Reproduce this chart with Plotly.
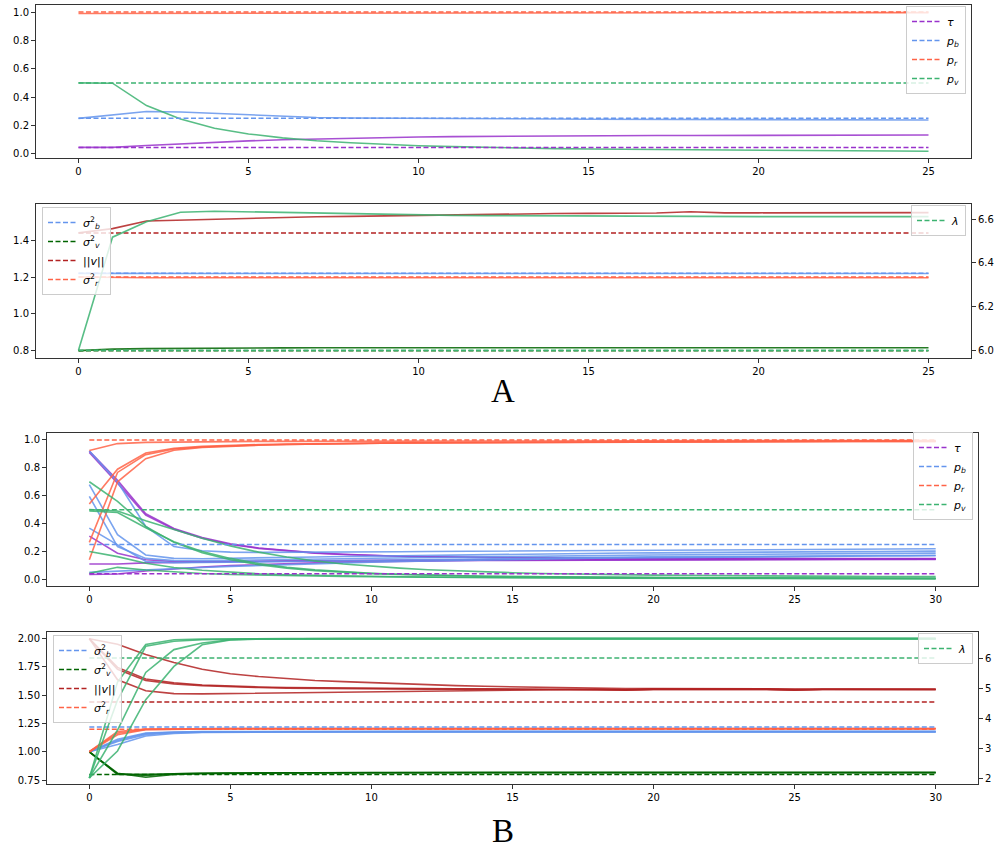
import plotly.graph_objects as go

# ---------------- Panel A data (iterations 0..25) ----------------
iters_A = list(range(26))
tau_A_true, pb_A_true, pr_A_true, pv_A_true = 0.045, 0.25, 1.0, 0.5
tau_A = [0.045,0.045,0.058,0.070,0.081,0.091,0.099,0.105,0.110,0.114,0.118,0.121,0.123,0.125,0.126,0.127,0.128,0.129,0.129,0.130,0.130,0.131,0.131,0.131,0.132,0.132]
pb_A = [0.250,0.272,0.298,0.295,0.285,0.272,0.263,0.256,0.252,0.250,0.249,0.248,0.247,0.246,0.245,0.244,0.243,0.242,0.241,0.240,0.240,0.239,0.239,0.238,0.238,0.238]
pr_A = [0.990,0.990,0.990,0.991,0.991,0.991,0.992,0.992,0.992,0.993,0.993,0.993,0.994,0.994,0.994,0.994,0.995,0.995,0.995,0.995,0.995,0.996,0.996,0.996,0.996,0.996]
pv_A = [0.500,0.498,0.340,0.245,0.180,0.140,0.112,0.092,0.078,0.066,0.057,0.050,0.044,0.040,0.036,0.033,0.031,0.029,0.027,0.025,0.024,0.022,0.021,0.020,0.019,0.018]

sb2_A_true, sv2_A_true, vn_A_true, sr2_A_true, lam_A_true = 1.22, 0.80, 1.44, 1.20, 6.0
sb2_A = [1.220,1.219,1.219,1.219,1.219,1.219,1.219,1.219,1.219,1.219,1.219,1.219,1.219,1.219,1.219,1.219,1.219,1.219,1.219,1.219,1.219,1.219,1.219,1.219,1.219,1.219]
sr2_A = [1.200,1.197,1.196,1.196,1.196,1.196,1.196,1.196,1.196,1.196,1.196,1.196,1.196,1.196,1.196,1.196,1.196,1.196,1.196,1.196,1.196,1.196,1.196,1.196,1.196,1.196]
sv2_A = [0.800,0.808,0.811,0.813,0.814,0.815,0.815,0.816,0.816,0.816,0.816,0.816,0.816,0.816,0.816,0.816,0.816,0.816,0.816,0.816,0.816,0.816,0.816,0.816,0.816,0.816]
vn_A = [1.440,1.463,1.505,1.510,1.516,1.522,1.526,1.528,1.530,1.533,1.536,1.539,1.541,1.543,1.545,1.546,1.547,1.548,1.555,1.549,1.549,1.550,1.550,1.551,1.551,1.550]
lam_A = [6.000,6.518,6.589,6.632,6.637,6.634,6.630,6.627,6.624,6.622,6.620,6.618,6.617,6.616,6.615,6.614,6.614,6.613,6.612,6.612,6.612,6.612,6.612,6.612,6.612,6.612]

# ---------------- Panel B data (iterations 0..30, several runs) ----------------
iters_B = list(range(31))
tau_B_true, pb_B_true, pr_B_true, pv_B_true = 0.04, 0.25, 1.0, 0.5
tau_B = [
    [0.920,0.710,0.470,0.365,0.300,0.255,0.225,0.205,0.190,0.180,0.172,0.166,0.162,0.159,0.157,0.155,0.154,0.153,0.152,0.152,0.151,0.151,0.150,0.150,0.150,0.150,0.149,0.149,0.149,0.149,0.149],
    [0.910,0.690,0.460,0.360,0.295,0.250,0.222,0.203,0.188,0.178,0.170,0.165,0.161,0.158,0.156,0.154,0.153,0.152,0.151,0.151,0.150,0.150,0.149,0.149,0.149,0.149,0.148,0.148,0.148,0.148,0.148],
    [0.310,0.187,0.140,0.128,0.125,0.125,0.126,0.128,0.130,0.132,0.134,0.136,0.137,0.138,0.139,0.140,0.141,0.141,0.142,0.142,0.143,0.143,0.143,0.144,0.144,0.144,0.144,0.144,0.145,0.145,0.145],
    [0.110,0.110,0.118,0.122,0.125,0.128,0.130,0.132,0.134,0.135,0.136,0.137,0.138,0.139,0.140,0.140,0.141,0.141,0.142,0.142,0.142,0.143,0.143,0.143,0.143,0.144,0.144,0.144,0.144,0.144,0.144],
    [0.035,0.038,0.060,0.075,0.088,0.098,0.106,0.113,0.118,0.122,0.126,0.129,0.131,0.133,0.135,0.136,0.137,0.138,0.139,0.140,0.140,0.141,0.141,0.142,0.142,0.142,0.143,0.143,0.143,0.143,0.143],
]
pb_B = [
    [0.920,0.700,0.380,0.235,0.205,0.195,0.193,0.193,0.194,0.195,0.197,0.198,0.200,0.201,0.203,0.204,0.205,0.206,0.207,0.208,0.209,0.210,0.211,0.212,0.213,0.214,0.215,0.216,0.217,0.218,0.219],
    [0.680,0.320,0.175,0.150,0.148,0.150,0.153,0.157,0.160,0.164,0.167,0.170,0.173,0.176,0.178,0.181,0.183,0.185,0.187,0.189,0.190,0.192,0.193,0.195,0.196,0.197,0.198,0.199,0.200,0.201,0.202],
    [0.595,0.235,0.150,0.135,0.133,0.135,0.138,0.141,0.145,0.148,0.151,0.154,0.157,0.160,0.162,0.165,0.167,0.169,0.171,0.173,0.175,0.177,0.178,0.180,0.181,0.183,0.184,0.185,0.186,0.187,0.188],
    [0.367,0.250,0.128,0.120,0.120,0.122,0.125,0.128,0.131,0.134,0.137,0.140,0.143,0.146,0.148,0.151,0.153,0.155,0.157,0.159,0.161,0.162,0.164,0.165,0.167,0.168,0.169,0.170,0.171,0.172,0.173],
    [0.050,0.060,0.068,0.077,0.085,0.093,0.100,0.107,0.113,0.118,0.123,0.128,0.132,0.136,0.140,0.143,0.146,0.149,0.151,0.154,0.156,0.158,0.160,0.161,0.163,0.164,0.165,0.166,0.167,0.168,0.169],
]
pr_B = [
    [0.925,0.974,0.983,0.986,0.988,0.989,0.990,0.990,0.991,0.991,0.992,0.992,0.992,0.993,0.993,0.993,0.993,0.994,0.994,0.994,0.994,0.994,0.995,0.995,0.995,0.995,0.995,0.995,0.995,0.995,0.995],
    [0.540,0.790,0.906,0.940,0.954,0.962,0.967,0.971,0.974,0.976,0.978,0.980,0.981,0.982,0.983,0.984,0.985,0.986,0.987,0.987,0.988,0.988,0.989,0.989,0.990,0.990,0.990,0.991,0.991,0.991,0.991],
    [0.265,0.767,0.895,0.935,0.950,0.958,0.964,0.968,0.972,0.975,0.977,0.979,0.980,0.981,0.982,0.983,0.984,0.985,0.986,0.986,0.987,0.987,0.988,0.988,0.989,0.989,0.989,0.990,0.990,0.990,0.990],
    [0.140,0.700,0.866,0.926,0.947,0.956,0.962,0.967,0.971,0.974,0.976,0.978,0.979,0.980,0.981,0.982,0.983,0.984,0.985,0.985,0.986,0.986,0.987,0.987,0.988,0.988,0.988,0.989,0.989,0.989,0.989],
]
pv_B = [
    [0.700,0.560,0.380,0.265,0.190,0.140,0.105,0.080,0.062,0.050,0.041,0.034,0.029,0.025,0.022,0.020,0.018,0.016,0.015,0.014,0.013,0.012,0.011,0.011,0.010,0.010,0.009,0.009,0.009,0.008,0.008],
    [0.500,0.490,0.420,0.355,0.295,0.240,0.195,0.160,0.132,0.110,0.093,0.080,0.069,0.060,0.053,0.047,0.042,0.038,0.035,0.032,0.030,0.028,0.026,0.025,0.024,0.023,0.022,0.021,0.020,0.020,0.019],
    [0.200,0.163,0.115,0.085,0.065,0.050,0.040,0.033,0.028,0.024,0.021,0.018,0.016,0.014,0.013,0.012,0.011,0.010,0.009,0.009,0.008,0.008,0.007,0.007,0.007,0.006,0.006,0.006,0.006,0.005,0.005],
    [0.043,0.086,0.067,0.052,0.042,0.035,0.030,0.026,0.023,0.020,0.018,0.016,0.014,0.013,0.012,0.011,0.010,0.009,0.008,0.008,0.007,0.007,0.006,0.006,0.006,0.005,0.005,0.005,0.005,0.004,0.004],
    [0.490,0.480,0.370,0.270,0.200,0.150,0.113,0.087,0.068,0.054,0.044,0.036,0.030,0.026,0.022,0.019,0.017,0.015,0.013,0.012,0.011,0.010,0.009,0.009,0.008,0.008,0.007,0.007,0.007,0.006,0.006],
]

sb2_B_true, sv2_B_true, vn_B_true, sr2_B_true, lam_B_true = 1.22, 0.80, 1.44, 1.20, 6.0
sb2_B = [
    [1.000,1.110,1.165,1.175,1.178,1.179,1.180,1.180,1.180,1.180,1.180,1.180,1.180,1.180,1.180,1.180,1.180,1.180,1.180,1.180,1.180,1.180,1.180,1.180,1.180,1.180,1.180,1.180,1.180,1.180,1.180],
    [1.000,1.090,1.150,1.168,1.173,1.175,1.176,1.177,1.177,1.177,1.177,1.177,1.177,1.177,1.177,1.177,1.177,1.177,1.177,1.177,1.177,1.177,1.177,1.177,1.177,1.177,1.177,1.177,1.177,1.177,1.177],
    [1.000,1.065,1.140,1.162,1.170,1.173,1.174,1.175,1.175,1.175,1.175,1.175,1.175,1.175,1.175,1.175,1.175,1.175,1.175,1.175,1.175,1.175,1.175,1.175,1.175,1.175,1.175,1.175,1.175,1.175,1.175],
    [1.000,1.100,1.160,1.172,1.176,1.177,1.178,1.178,1.178,1.178,1.178,1.178,1.178,1.178,1.178,1.178,1.178,1.178,1.178,1.178,1.178,1.178,1.178,1.178,1.178,1.178,1.178,1.178,1.178,1.178,1.178],
]
sr2_B = [
    [1.000,1.180,1.200,1.203,1.205,1.205,1.205,1.205,1.205,1.205,1.205,1.205,1.205,1.205,1.205,1.205,1.205,1.205,1.205,1.205,1.205,1.205,1.205,1.205,1.205,1.205,1.205,1.205,1.205,1.205,1.205],
    [1.000,1.150,1.195,1.200,1.203,1.204,1.204,1.204,1.204,1.204,1.204,1.204,1.204,1.204,1.204,1.204,1.204,1.204,1.204,1.204,1.204,1.204,1.204,1.204,1.204,1.204,1.204,1.204,1.204,1.204,1.204],
    [1.000,1.165,1.198,1.202,1.204,1.205,1.205,1.205,1.205,1.205,1.205,1.205,1.205,1.205,1.205,1.205,1.205,1.205,1.205,1.205,1.205,1.205,1.205,1.205,1.205,1.205,1.205,1.205,1.205,1.205,1.205],
]
sv2_B = [
    [1.000,0.810,0.775,0.800,0.806,0.810,0.812,0.814,0.815,0.816,0.817,0.817,0.817,0.817,0.817,0.817,0.817,0.817,0.817,0.817,0.817,0.817,0.817,0.817,0.817,0.817,0.817,0.817,0.817,0.817,0.817],
    [1.000,0.805,0.790,0.805,0.810,0.812,0.814,0.815,0.816,0.817,0.817,0.817,0.817,0.817,0.817,0.817,0.817,0.817,0.817,0.817,0.817,0.817,0.817,0.817,0.817,0.817,0.817,0.817,0.817,0.817,0.817],
    [1.000,0.800,0.800,0.807,0.810,0.812,0.813,0.814,0.815,0.815,0.816,0.816,0.816,0.816,0.816,0.816,0.816,0.816,0.816,0.816,0.816,0.816,0.816,0.816,0.816,0.816,0.816,0.816,0.816,0.816,0.816],
]
vn_B = [
    [2.000,1.950,1.860,1.790,1.730,1.690,1.665,1.645,1.630,1.620,1.610,1.600,1.592,1.585,1.579,1.574,1.570,1.567,1.564,1.558,1.560,1.558,1.557,1.556,1.556,1.550,1.554,1.554,1.554,1.553,1.553],
    [2.000,1.746,1.643,1.610,1.590,1.580,1.573,1.568,1.565,1.562,1.560,1.558,1.557,1.556,1.556,1.555,1.555,1.555,1.554,1.548,1.554,1.556,1.554,1.554,1.554,1.548,1.553,1.553,1.553,1.552,1.552],
    [2.000,1.730,1.630,1.600,1.585,1.575,1.568,1.563,1.560,1.558,1.556,1.555,1.554,1.554,1.553,1.553,1.553,1.552,1.552,1.546,1.552,1.554,1.552,1.552,1.552,1.546,1.551,1.551,1.551,1.551,1.551],
    [2.000,1.637,1.540,1.514,1.512,1.515,1.518,1.522,1.526,1.530,1.534,1.538,1.541,1.544,1.546,1.548,1.549,1.550,1.551,1.545,1.551,1.553,1.551,1.551,1.551,1.545,1.550,1.550,1.550,1.550,1.550],
]
lam_B = [
    [2.00,5.20,6.45,6.61,6.63,6.64,6.64,6.645,6.645,6.645,6.645,6.645,6.645,6.645,6.645,6.645,6.645,6.645,6.645,6.645,6.645,6.645,6.645,6.645,6.645,6.645,6.645,6.645,6.645,6.645,6.645],
    [2.00,4.60,6.39,6.56,6.61,6.63,6.64,6.64,6.645,6.645,6.645,6.645,6.645,6.645,6.645,6.645,6.645,6.645,6.645,6.645,6.645,6.645,6.645,6.645,6.645,6.645,6.645,6.645,6.645,6.645,6.645],
    [2.00,3.60,5.52,6.28,6.50,6.61,6.635,6.64,6.645,6.645,6.645,6.645,6.645,6.645,6.645,6.645,6.645,6.645,6.645,6.645,6.645,6.645,6.645,6.645,6.645,6.645,6.645,6.645,6.645,6.645,6.645],
    [2.00,2.90,4.61,5.72,6.44,6.60,6.63,6.64,6.645,6.645,6.645,6.645,6.645,6.645,6.645,6.645,6.645,6.645,6.645,6.645,6.645,6.645,6.645,6.645,6.645,6.645,6.645,6.645,6.645,6.645,6.645],
]

# ---------------- styling ----------------
C_TAU = "#9932CC"
C_B = "#6495ED"
C_R = "#FF6347"
C_V = "#3CB371"
C_SV = "#006400"
C_N = "#B22222"

LBL_TAU = "<i>τ</i>"
LBL_PB = "<i>p<sub>b</sub></i>"
LBL_PR = "<i>p<sub>r</sub></i>"
LBL_PV = "<i>p<sub>v</sub></i>"
LBL_SB = "<i>σ</i><sup>2</sup><sub><i>b</i></sub>"
LBL_SV = "<i>σ</i><sup>2</sup><sub><i>v</i></sub>"
LBL_N = "||<i>v</i>||"
LBL_SR = "<i>σ</i><sup>2</sup><sub><i>r</i></sub>"
LBL_LAM = "<i>λ</i>"

W, H = 1001, 851
DASH = "5px,2.5px"

fig = go.Figure()


def solid(x, y, color, xa, ya):
    fig.add_trace(go.Scatter(x=x, y=y, mode="lines", showlegend=False, hoverinfo="skip",
                             line=dict(color=color, width=1.6), opacity=0.85,
                             xaxis=xa, yaxis=ya))


def dashed(x, val, color, name, xa, ya, legend):
    fig.add_trace(go.Scatter(x=[x[0], x[-1]], y=[val, val], mode="lines", name=name,
                             line=dict(color=color, width=1.5, dash=DASH),
                             xaxis=xa, yaxis=ya, legend=legend))


# Panel A top
solid(iters_A, tau_A, C_TAU, "x", "y")
solid(iters_A, pb_A, C_B, "x", "y")
solid(iters_A, pr_A, C_R, "x", "y")
solid(iters_A, pv_A, C_V, "x", "y")
dashed(iters_A, tau_A_true, C_TAU, LBL_TAU, "x", "y", "legend")
dashed(iters_A, pb_A_true, C_B, LBL_PB, "x", "y", "legend")
dashed(iters_A, pr_A_true, C_R, LBL_PR, "x", "y", "legend")
dashed(iters_A, pv_A_true, C_V, LBL_PV, "x", "y", "legend")

# Panel A bottom
solid(iters_A, sb2_A, C_B, "x2", "y2")
solid(iters_A, sv2_A, C_SV, "x2", "y2")
solid(iters_A, vn_A, C_N, "x2", "y2")
solid(iters_A, sr2_A, C_R, "x2", "y2")
dashed(iters_A, sb2_A_true, C_B, LBL_SB, "x2", "y2", "legend2")
dashed(iters_A, sv2_A_true, C_SV, LBL_SV, "x2", "y2", "legend2")
dashed(iters_A, vn_A_true, C_N, LBL_N, "x2", "y2", "legend2")
dashed(iters_A, sr2_A_true, C_R, LBL_SR, "x2", "y2", "legend2")
solid(iters_A, lam_A, C_V, "x2", "y3")
dashed(iters_A, lam_A_true, C_V, LBL_LAM, "x2", "y3", "legend3")

# Panel B top
for run in tau_B:
    solid(iters_B, run, C_TAU, "x3", "y4")
for run in pb_B:
    solid(iters_B, run, C_B, "x3", "y4")
for run in pr_B:
    solid(iters_B, run, C_R, "x3", "y4")
for run in pv_B:
    solid(iters_B, run, C_V, "x3", "y4")
dashed(iters_B, tau_B_true, C_TAU, LBL_TAU, "x3", "y4", "legend4")
dashed(iters_B, pb_B_true, C_B, LBL_PB, "x3", "y4", "legend4")
dashed(iters_B, pr_B_true, C_R, LBL_PR, "x3", "y4", "legend4")
dashed(iters_B, pv_B_true, C_V, LBL_PV, "x3", "y4", "legend4")

# Panel B bottom
for run in sb2_B:
    solid(iters_B, run, C_B, "x4", "y5")
for run in sv2_B:
    solid(iters_B, run, C_SV, "x4", "y5")
for run in vn_B:
    solid(iters_B, run, C_N, "x4", "y5")
for run in sr2_B:
    solid(iters_B, run, C_R, "x4", "y5")
dashed(iters_B, sb2_B_true, C_B, LBL_SB, "x4", "y5", "legend5")
dashed(iters_B, sv2_B_true, C_SV, LBL_SV, "x4", "y5", "legend5")
dashed(iters_B, vn_B_true, C_N, LBL_N, "x4", "y5", "legend5")
dashed(iters_B, sr2_B_true, C_R, LBL_SR, "x4", "y5", "legend5")
for run in lam_B:
    solid(iters_B, run, C_V, "x4", "y6")
dashed(iters_B, lam_B_true, C_V, LBL_LAM, "x4", "y6", "legend6")


def xd(a, b):
    return [a / W, b / W]


def yd(top, bottom):
    return [1 - bottom / H, 1 - top / H]


AX = dict(showline=True, linecolor="#333333", linewidth=1, mirror=True, ticks="outside",
          ticklen=4, tickcolor="#333333", showgrid=False, zeroline=False, automargin=False,
          tickfont=dict(family="DejaVu Sans", size=10, color="#000000"))
AXR = dict(showline=True, linecolor="#333333", linewidth=1, ticks="outside",
           ticklen=4, tickcolor="#333333", showgrid=False, zeroline=False, automargin=False,
           tickfont=dict(family="DejaVu Sans", size=10, color="#000000"))

LEG = dict(bgcolor="rgba(255,255,255,0.8)", bordercolor="#cccccc", borderwidth=1,
           font=dict(family="DejaVu Sans", size=11, color="#000000"),
           traceorder="normal", itemwidth=30, tracegroupgap=0)

fig.update_layout(
    template="none",
    width=W, height=H, margin=dict(l=0, r=0, t=0, b=0, autoexpand=False),
    plot_bgcolor="white", paper_bgcolor="white",
    xaxis=dict(AX, domain=xd(36, 971), anchor="y", range=[-1.25, 26.25], tickvals=[0, 5, 10, 15, 20, 25]),
    yaxis=dict(AX, domain=yd(5, 158), anchor="x", range=[-0.03, 1.05],
               tickvals=[0, 0.2, 0.4, 0.6, 0.8, 1.0], tickformat=".1f"),
    xaxis2=dict(AX, domain=xd(36, 971), anchor="y2", range=[-1.25, 26.25], tickvals=[0, 5, 10, 15, 20, 25]),
    yaxis2=dict(AX, domain=yd(204, 358), anchor="x2", range=[0.76, 1.597],
                tickvals=[0.8, 1.0, 1.2, 1.4], tickformat=".1f"),
    yaxis3=dict(AXR, overlaying="y2", side="right", anchor="x2", range=[5.965, 6.670],
                tickvals=[6.0, 6.2, 6.4, 6.6], tickformat=".1f"),
    xaxis3=dict(AX, domain=xd(47, 978), anchor="y4", range=[-1.5, 31.5], tickvals=[0, 5, 10, 15, 20, 25, 30]),
    yaxis4=dict(AX, domain=yd(433, 586), anchor="x3", range=[-0.048, 1.05],
                tickvals=[0, 0.2, 0.4, 0.6, 0.8, 1.0], tickformat=".1f"),
    xaxis4=dict(AX, domain=xd(47, 978), anchor="y5", range=[-1.5, 31.5], tickvals=[0, 5, 10, 15, 20, 25, 30]),
    yaxis5=dict(AX, domain=yd(632, 784), anchor="x4", range=[0.715, 2.059],
                tickvals=[0.75, 1.0, 1.25, 1.5, 1.75, 2.0], tickformat=".2f"),
    yaxis6=dict(AXR, overlaying="y5", side="right", anchor="x4", range=[1.8, 6.867],
                tickvals=[2, 3, 4, 5, 6]),
    legend=dict(LEG, x=966 / W, xanchor="right", y=1 - 6 / H, yanchor="top"),
    legend2=dict(LEG, x=42 / W, xanchor="left", y=1 - 207 / H, yanchor="top"),
    legend3=dict(LEG, x=966 / W, xanchor="right", y=1 - 205 / H, yanchor="top"),
    legend4=dict(LEG, x=973 / W, xanchor="right", y=1 - 432 / H, yanchor="top"),
    legend5=dict(LEG, x=53 / W, xanchor="left", y=1 - 635 / H, yanchor="top"),
    legend6=dict(LEG, x=973 / W, xanchor="right", y=1 - 633 / H, yanchor="top"),
    annotations=[
        dict(text="A", x=503 / W, y=1 - 391 / H, xref="paper", yref="paper", showarrow=False,
             xanchor="center", yanchor="middle",
             font=dict(family="Liberation Serif", size=33, color="#000000")),
        dict(text="B", x=503 / W, y=1 - 831 / H, xref="paper", yref="paper", showarrow=False,
             xanchor="center", yanchor="middle",
             font=dict(family="Liberation Serif", size=33, color="#000000")),
    ],
)

fig.write_html("out.html", config={"displayModeBar": False},
               post_script="document.body.style.margin='0';document.body.style.overflow='hidden';")
